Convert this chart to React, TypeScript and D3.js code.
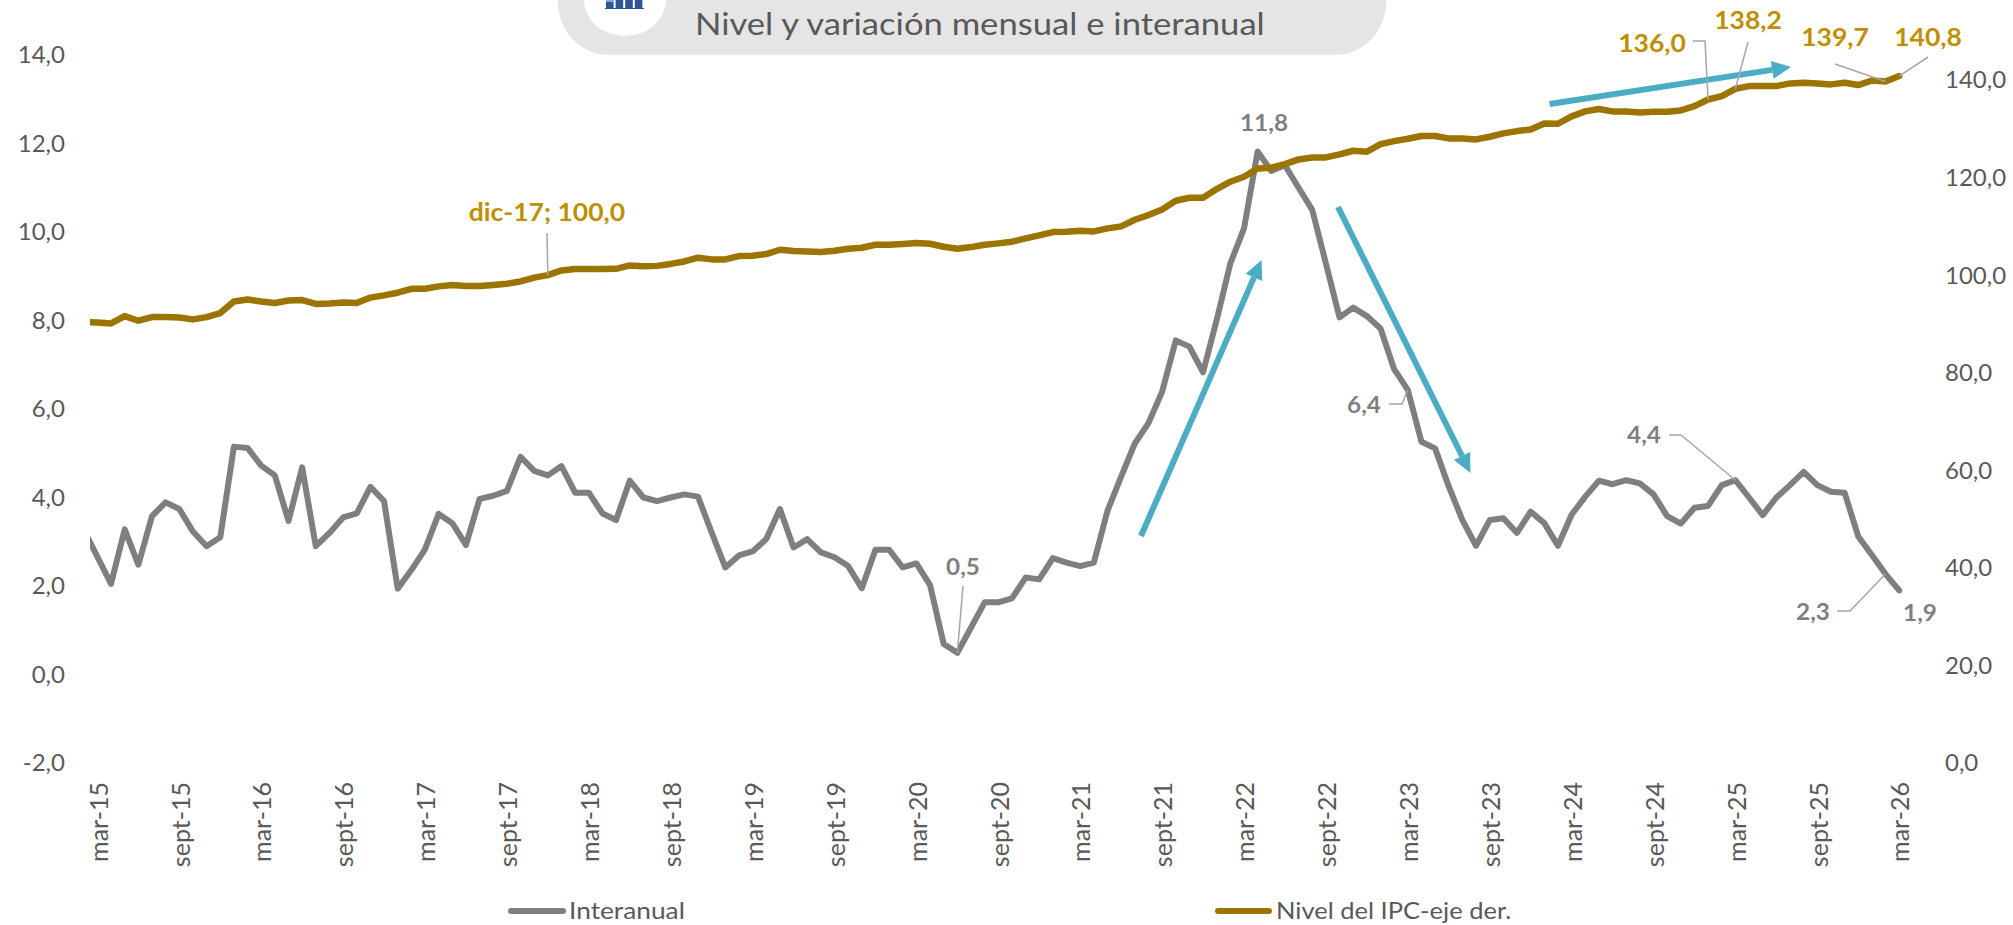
import React from "react";
import * as d3 from "d3";

const tickLabels = ["mar-15","sept-15","mar-16","sept-16","mar-17","sept-17","mar-18","sept-18","mar-19","sept-19","mar-20","sept-20","mar-21","sept-21","mar-22","sept-22","mar-23","sept-23","mar-24","sept-24","mar-25","sept-25","mar-26"];
const leftTicks = [-2,0,2,4,6,8,10,12,14];
const rightTicks = [0,20,40,60,80,100,120,140];

// first value is the month before the first label; the plot area clips it
const interanual = [3.27,2.66,2.05,3.28,2.48,3.58,3.89,3.74,3.23,2.90,3.10,5.15,5.12,4.72,4.50,3.47,4.68,2.90,3.20,3.55,3.64,4.24,3.92,1.94,2.36,2.83,3.63,3.42,2.93,3.97,4.04,4.15,4.92,4.60,4.50,4.71,4.11,4.11,3.64,3.49,4.38,4.00,3.92,4.00,4.07,4.02,3.21,2.42,2.69,2.78,3.06,3.74,2.87,3.06,2.76,2.65,2.45,1.95,2.82,2.82,2.42,2.51,2.02,0.69,0.49,1.06,1.63,1.63,1.72,2.19,2.15,2.63,2.53,2.45,2.53,3.70,4.47,5.22,5.68,6.39,7.55,7.41,6.83,8.01,9.29,10.08,11.82,11.38,11.51,11.0,10.5,9.29,8.07,8.29,8.10,7.82,6.90,6.43,5.26,5.11,4.25,3.49,2.91,3.49,3.53,3.20,3.68,3.42,2.91,3.61,4.02,4.38,4.30,4.39,4.32,4.07,3.58,3.41,3.77,3.81,4.28,4.39,4.0,3.60,4.0,4.28,4.58,4.28,4.13,4.11,3.12,2.70,2.27,1.90];
const nivel = [90.35,90.31,90.1,91.6,90.66,91.4,91.4,91.3,90.93,91.4,92.23,94.6,95.0,94.6,94.3,94.8,94.9,94.1,94.2,94.4,94.3,95.4,95.85,96.4,97.2,97.2,97.7,97.97,97.76,97.76,97.97,98.24,98.7,99.5,100.0,100.97,101.25,101.25,101.25,101.3,102.0,101.8,101.9,102.3,102.8,103.57,103.23,103.23,103.91,103.98,104.32,105.21,104.93,104.87,104.73,105.0,105.41,105.62,106.23,106.23,106.37,106.57,106.44,105.82,105.41,105.75,106.23,106.51,106.85,107.53,108.15,108.83,108.9,109.1,108.97,109.58,109.99,111.36,112.31,113.47,115.25,115.87,115.87,117.64,119.15,120.17,121.88,122.02,122.77,123.72,124.13,124.13,124.75,125.5,125.29,126.87,127.48,127.96,128.51,128.51,128.03,128.03,127.82,128.37,129.05,129.53,129.87,131.1,131.03,132.54,133.56,134.04,133.56,133.56,133.36,133.49,133.49,133.77,134.65,136.0,136.7,138.2,138.75,138.75,138.75,139.3,139.44,139.3,139.1,139.44,138.96,139.9,139.7,140.8];

const GRAY = "#7F7F7F";
const GOLD = "#9C7500";
const GOLD_TEXT = "#BF8F00";
const CYAN = "#4BACC6";
const TEXT = "#595959";
const LEADER = "#A6A6A6";
const FONT = "Lato, sans-serif";

const x = d3.scaleLinear().domain([0, 132]).range([97.4, 1899.2]);
const yL = d3.scaleLinear().domain([-2, 14]).range([763, 55]);
const yR = d3.scaleLinear().domain([0, 140]).range([763, 80]);

const grayLine = d3.line<number>().x((_, i) => x(i - 1)).y((v) => yL(v));
const goldLine = d3.line<number>().x((_, i) => x(i - 1)).y((v) => yR(v));

const fmt = (v: number) => d3.format(".1f")(v).replace(".", ",").replace("\u2212", "-");

type Note = { t: string; i: number; s: "g" | "o"; tx: number; ty: number; path: [number, number][] };
const notes: Note[] = [
  { t: "dic-17; 100,0", i: 33, s: "o", tx: 547, ty: 212, path: [[547, 233]] },
  { t: "136,0", i: 118, s: "o", tx: 1652, ty: 43, path: [[1693, 41], [1705, 41]] },
  { t: "138,2", i: 120, s: "o", tx: 1748, ty: 20, path: [[1748, 42]] },
  { t: "139,7", i: 131, s: "o", tx: 1835, ty: 37, path: [[1835, 64]] },
  { t: "140,8", i: 132, s: "o", tx: 1928, ty: 37, path: [[1928, 57]] },
  { t: "11,8", i: 85, s: "g", tx: 1264, ty: 123, path: [] },
  { t: "6,4", i: 96, s: "g", tx: 1364, ty: 405, path: [[1389, 404], [1402, 404]] },
  { t: "0,5", i: 63, s: "g", tx: 963, ty: 567, path: [[963, 586]] },
  { t: "4,4", i: 120, s: "g", tx: 1644, ty: 435, path: [[1669, 435], [1681, 435]] },
  { t: "2,3", i: 131, s: "g", tx: 1813, ty: 612, path: [[1837, 611], [1850, 611]] },
  { t: "1,9", i: 132, s: "g", tx: 1920, ty: 613, path: [] },
];

const arrows = [
  { x1: 1141, y1: 536, x2: 1261.6, y2: 260 },
  { x1: 1338, y1: 207, x2: 1470.5, y2: 473 },
  { x1: 1549.6, y1: 104, x2: 1791, y2: 67 },
];

function Arrow({ x1, y1, x2, y2 }: { x1: number; y1: number; x2: number; y2: number }) {
  const a = Math.atan2(y2 - y1, x2 - x1);
  const len = 19, hw = 9;
  const bx = x2 - len * Math.cos(a), by = y2 - len * Math.sin(a);
  const nx = -Math.sin(a), ny = Math.cos(a);
  return (
    <g>
      <line x1={x1} y1={y1} x2={bx} y2={by} stroke={CYAN} strokeWidth={6} />
      <path d={`M${x2},${y2}L${bx + nx * hw},${by + ny * hw}L${bx - nx * hw},${by - ny * hw}Z`} fill={CYAN} />
    </g>
  );
}

export default function App() {
  return (
    <svg width={2013} height={925} style={{ position: "absolute", left: 0, top: 0, display: "block", background: "#fff" }} fontFamily={FONT}>
      <defs>
        <clipPath id="plot"><rect x={90} y={0} width={1900} height={925} /></clipPath>
      </defs>

      {/* header */}
      <rect x={557.5} y={-60} width={829} height={114.7} rx={50} ry={55} fill="#E5E5E5" />
      <ellipse cx={625} cy={0} rx={41} ry={36} fill="#fff" />
      {[0, 1, 2, 3].map((k) => (
        <rect key={k} x={606 + k * 9.6} y={0} width={7.6} height={8} fill="#2F5597" />
      ))}
      <rect x={606} y={0} width={7.6} height={2} fill="#8FAADC" />
      <rect x={605} y={8} width={39} height={1} fill="#2F5597" />
      <text transform="translate(695,35) scale(1.135,1)" fontSize={30.5} fill={TEXT}>Nivel y variación mensual e interanual</text>

      {/* axes */}
      {leftTicks.map((v) => (
        <text key={v} x={65} y={yL(v)} dy="0.35em" textAnchor="end" fontSize={24} fill={TEXT}>{fmt(v)}</text>
      ))}
      {rightTicks.map((v) => (
        <text key={v} x={1945} y={yR(v)} dy="0.35em" fontSize={24} fill={TEXT}>{fmt(v)}</text>
      ))}
      {tickLabels.map((t, k) => (
        <text key={t} transform={`translate(${x(k * 6) + 1.5},782) rotate(-90)`} dy="0.35em" textAnchor="end" fontSize={25} fill={TEXT}>{t}</text>
      ))}

      {/* series */}
      <g clipPath="url(#plot)" fill="none" strokeLinejoin="round" strokeLinecap="round">
        <path d={grayLine(interanual) ?? ""} stroke={GRAY} strokeWidth={6} />
        <path d={goldLine(nivel) ?? ""} stroke={GOLD} strokeWidth={6.5} />
      </g>

      {/* arrows */}
      {arrows.map((a, k) => <Arrow key={k} {...a} />)}

      {/* data labels */}
      {notes.map((n) => {
        const end: [number, number] = n.s === "g"
          ? [x(n.i), yL(interanual[n.i + 1])]
          : [x(n.i), yR(nivel[n.i + 1])];
        return (
          <g key={n.t}>
            {n.path.length > 0 && (
              <path d={d3.line()([...n.path, end]) ?? ""} fill="none" stroke={LEADER} strokeWidth={1.5} />
            )}
            <text transform={`translate(${n.tx},${n.ty}) scale(${n.s === "g" ? 1.08 : 1.04},1)`} dy="0.35em" textAnchor="middle" fontSize={n.s === "g" ? 22.5 : 25.5} fontWeight={700} fill={n.s === "g" ? GRAY : GOLD_TEXT}>{n.t}</text>
          </g>
        );
      })}

      {/* legend */}
      <line x1={511} x2={563} y1={911} y2={911} stroke={GRAY} strokeWidth={6} strokeLinecap="round" />
      <text transform="translate(569,911) scale(1.096,1)" dy="0.35em" fontSize={24} fill={TEXT}>Interanual</text>
      <line x1={1218} x2={1269} y1={911} y2={911} stroke={GOLD} strokeWidth={6} strokeLinecap="round" />
      <text transform="translate(1276,911) scale(1.064,1)" dy="0.35em" fontSize={24} fill={TEXT}>Nivel del IPC-eje der.</text>
    </svg>
  );
}
